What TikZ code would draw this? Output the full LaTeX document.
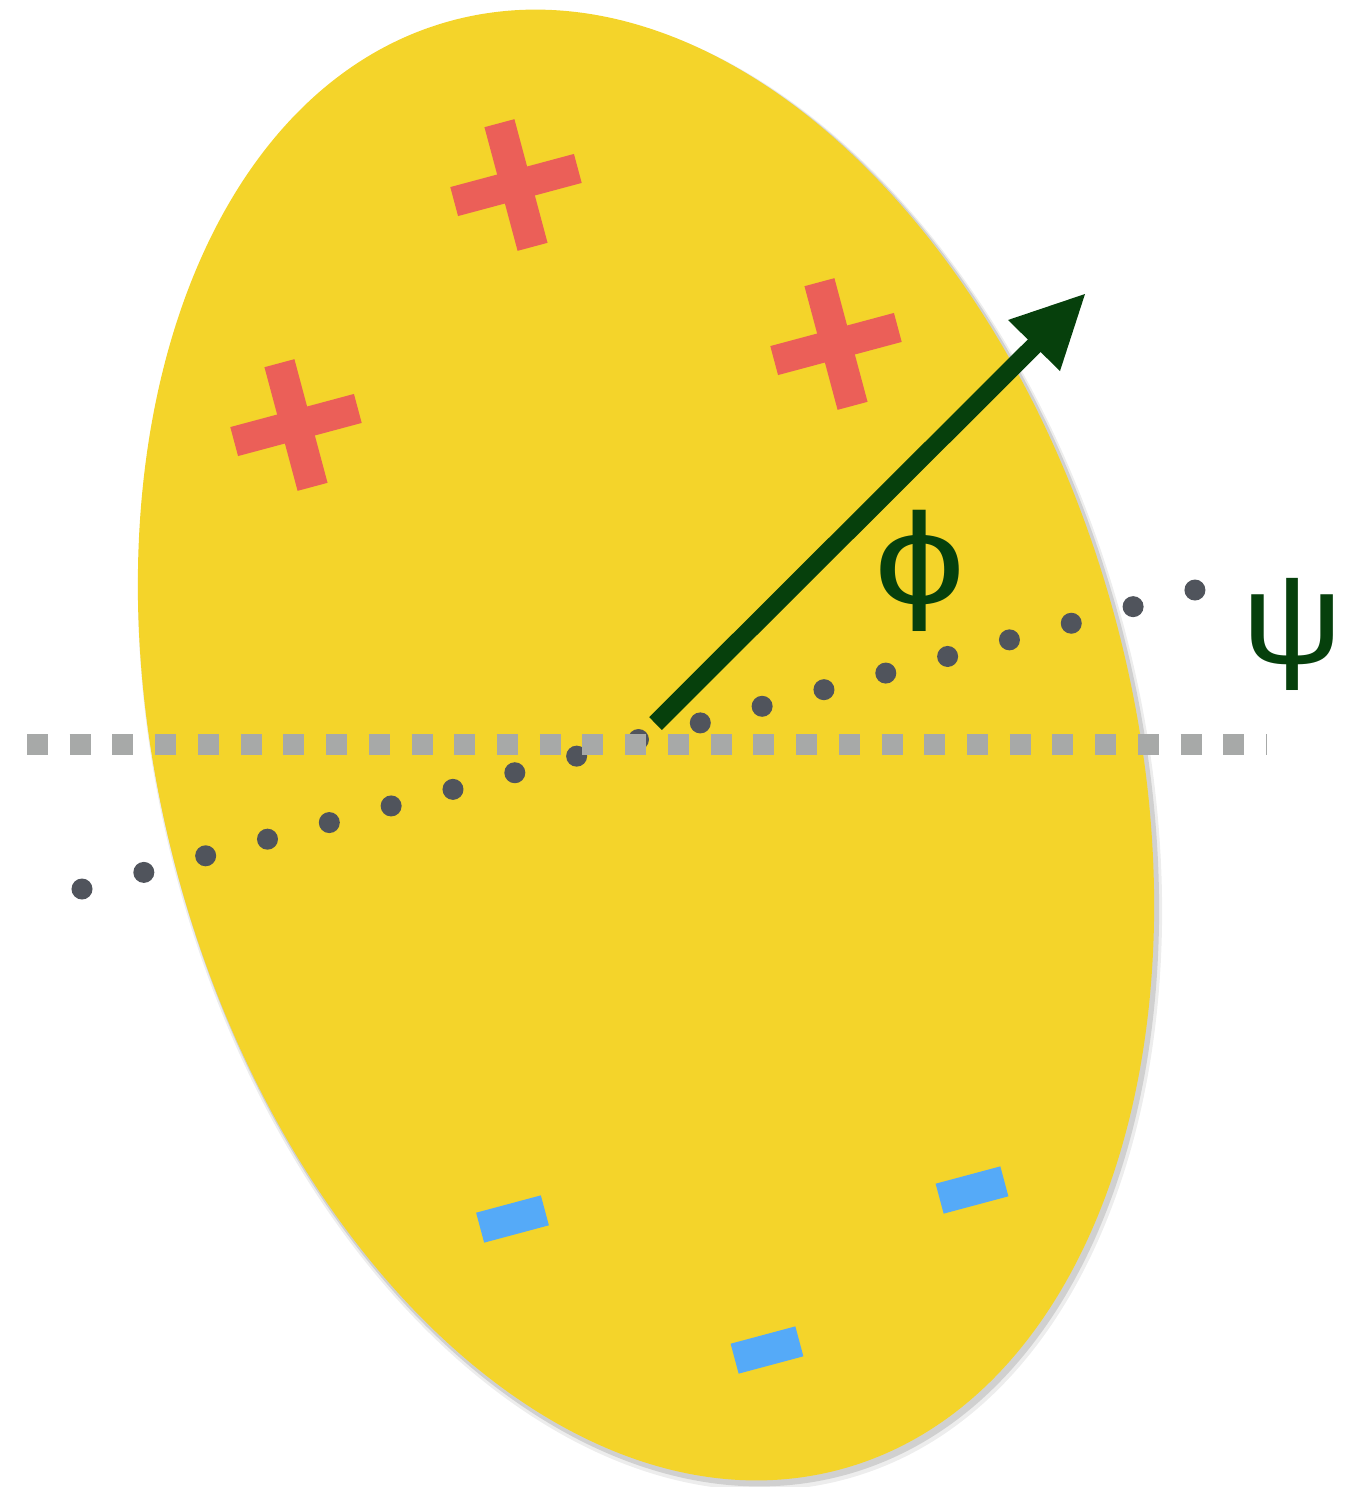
\documentclass[tikz,border=0pt]{standalone}
\usepackage{fontspec}
\setmainfont{Liberation Sans}
\definecolor{yel}{HTML}{F4D42A}
\definecolor{redc}{HTML}{EB5F58}
\definecolor{bluec}{HTML}{55AAF8}
\definecolor{dotc}{HTML}{50545C}
\definecolor{dashc}{HTML}{A7A9A8}
\definecolor{grn}{RGB}{6,64,12}
\tikzset{
  plusbar/.style={fill=redc},
  minusbar/.style={fill=bluec},
  greek/.style={text=grn, inner sep=0pt, anchor=base, font=\fontsize{37}{40}\selectfont},
}
\begin{document}
\begin{tikzpicture}[x=0.01cm,y=-0.01cm]
\useasboundingbox (0,0) rectangle (1347,1487);
% shadow
\fill[black, opacity=0.07, shift={(650,751)}, rotate=15] (0,0) ellipse [x radius=490, y radius=754];
\fill[black, opacity=0.12, shift={(649,749)}, rotate=15] (0,0) ellipse [x radius=488, y radius=752];
% body
\fill[yel, shift={(646,745)}, rotate=15] (0,0) ellipse [x radius=486, y radius=750];
% plus signs
\foreach \cx/\cy in {516/185, 836/344, 296/425} {
  \fill[plusbar, shift={(\cx,\cy)}, rotate=15] (-15.5,-64) rectangle (15.5,64);
  \fill[plusbar, shift={(\cx,\cy)}, rotate=15] (-64,-15) rectangle (64,15);
}
% minus signs
\foreach \cx/\cy in {512.5/1219, 767/1350, 972/1190} {
  \fill[minusbar, shift={(\cx,\cy)}, rotate=15] (-33.5,-15.5) rectangle (33.5,15.5);
}
% dotted line psi
\foreach \i in {0,...,18} {
  \fill[dotc] ({82+61.83*\i},{889-16.61*\i}) circle [radius=0.105cm];
}
% dashed horizontal
\coordinate (hl) at (27,744.5);
\coordinate (hr) at (1267,744.5);
\draw[dashc, line width=0.21cm, dash pattern=on 0.21cm off 0.217cm] (hl) -- (hr);
% arrow
\coordinate (tail) at (655.5,723.5);
\coordinate (base) at (1040,340);
\coordinate (tip) at (1085,294);
\coordinate (bl) at (1008,320);
\coordinate (br) at (1060,371);
\draw[grn, line width=0.18cm] (tail) -- (base);
\fill[grn] (tip) -- (bl) -- (br) -- cycle;
% labels
\node[greek] (phi) at (920,604) {\scalebox{1.25}[1]{ϕ}};
\node[greek] (psi) at (1293,663) {\scalebox{1.08}[1]{ψ}};
\end{tikzpicture}
\end{document}
